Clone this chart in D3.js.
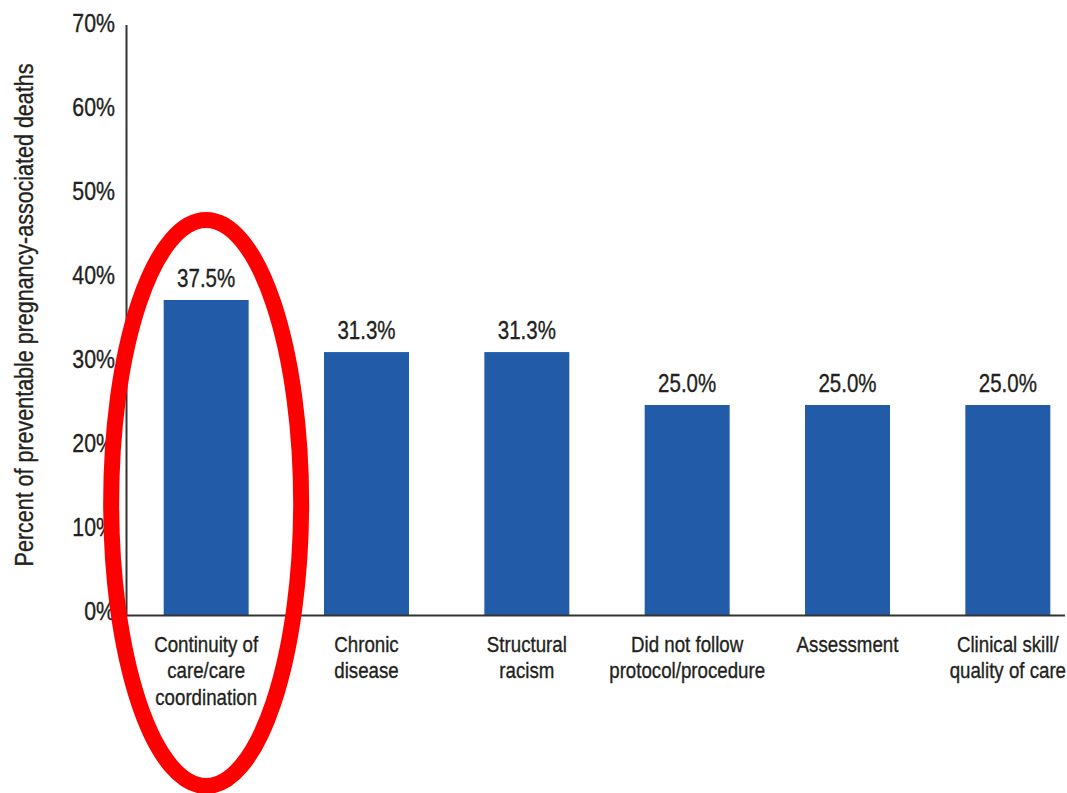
<!DOCTYPE html>
<html>
<head>
<meta charset="utf-8">
<script src="https://cdn.jsdelivr.net/npm/d3@7/dist/d3.min.js"></script>
<style>
  html, body { margin: 0; padding: 0; background: #fff; }
  svg { display: block; }
  text { font-family: "Liberation Sans", Arial, sans-serif; fill: #231f20; stroke: #231f20; stroke-width: 0.35px; }
</style>
</head>
<body>
<svg id="chart" width="1067" height="793"></svg>
<script>
// Contributing factors to preventable pregnancy-associated deaths
const categories = [
  "Continuity of care/care coordination",
  "Chronic disease",
  "Structural racism",
  "Did not follow protocol/procedure",
  "Assessment",
  "Clinical skill/ quality of care"
];
const categoryLines = [
  ["Continuity of", "care/care", "coordination"],
  ["Chronic", "disease"],
  ["Structural", "racism"],
  ["Did not follow", "protocol/procedure"],
  ["Assessment"],
  ["Clinical skill/", "quality of care"]
];
const values = [37.5, 31.3, 31.3, 25.0, 25.0, 25.0];
const valueLabels = ["37.5%", "31.3%", "31.3%", "25.0%", "25.0%", "25.0%"];
const yTicks = [0, 10, 20, 30, 40, 50, 60, 70];
const yTickLabels = ["0%", "10%", "20%", "30%", "40%", "50%", "60%", "70%"];
const yTitle = "Percent of preventable pregnancy-associated deaths";
const highlightIndex = 0;

// Condensed look: horizontal squeeze applied around each text anchor
const SQUEEZE = 0.82;

const svg = d3.select("#chart");

const x = d3.scaleBand()
  .domain(categories)
  .range([126, 1088])
  .paddingInner(0.47)
  .paddingOuter(0.235)
  .align(0.5);

const y = d3.scaleLinear().domain([0, 70]).range([615, 27]);

// Bars
svg.append("g").selectAll("rect")
  .data(values)
  .join("rect")
  .attr("x", (d, i) => x(categories[i]))
  .attr("width", x.bandwidth())
  .attr("y", d => y(d))
  .attr("height", d => y(0) - y(d))
  .attr("fill", "#225ca8");

// Axis lines
svg.append("line")
  .attr("x1", 126.5).attr("x2", 126.5)
  .attr("y1", y(70) - 2).attr("y2", y(0) + 1)
  .attr("stroke", "#333").attr("stroke-width", 2);
svg.append("line")
  .attr("x1", 126).attr("x2", 1065)
  .attr("y1", y(0) + 0.5).attr("y2", y(0) + 0.5)
  .attr("stroke", "#333").attr("stroke-width", 2);

// Y tick labels
svg.append("g").selectAll("text")
  .data(yTicks)
  .join("text")
  .attr("transform", d => `translate(115,${y(d) - 4}) scale(${SQUEEZE},1)`)
  .attr("dy", "0.35em")
  .attr("text-anchor", "end")
  .attr("font-size", 26)
  .text((d, i) => yTickLabels[i]);

// Y axis title
svg.append("text")
  .attr("transform", `translate(33,315) rotate(-90) scale(0.86,1)`)
  .attr("text-anchor", "middle")
  .attr("font-size", 25)
  .text(yTitle);

// Value labels
svg.append("g").selectAll("text")
  .data(values)
  .join("text")
  .attr("transform", (d, i) => `translate(${x(categories[i]) + x.bandwidth() / 2},${y(d) - 13}) scale(${SQUEEZE},1)`)
  .attr("text-anchor", "middle")
  .attr("font-size", 25)
  .text((d, i) => valueLabels[i]);

// Category labels
svg.append("g").selectAll("text")
  .data(categories)
  .join("text")
  .attr("transform", d => `translate(${x(d) + x.bandwidth() / 2},652) scale(0.85,1)`)
  .attr("text-anchor", "middle")
  .attr("font-size", 22)
  .each(function(d, i) {
    const t = d3.select(this);
    categoryLines[i].forEach((line, j) => {
      t.append("tspan").attr("x", 0).attr("y", j * 26.5).text(line);
    });
  });

// Highlight ring around the first category
const hx = x(categories[highlightIndex]) + x.bandwidth() / 2;
svg.append("ellipse")
  .attr("cx", hx)
  .attr("cy", 503)
  .attr("rx", 95)
  .attr("ry", 283)
  .attr("fill", "none")
  .attr("stroke", "#ff0000")
  .attr("stroke-width", 16);
</script>
</body>
</html>
